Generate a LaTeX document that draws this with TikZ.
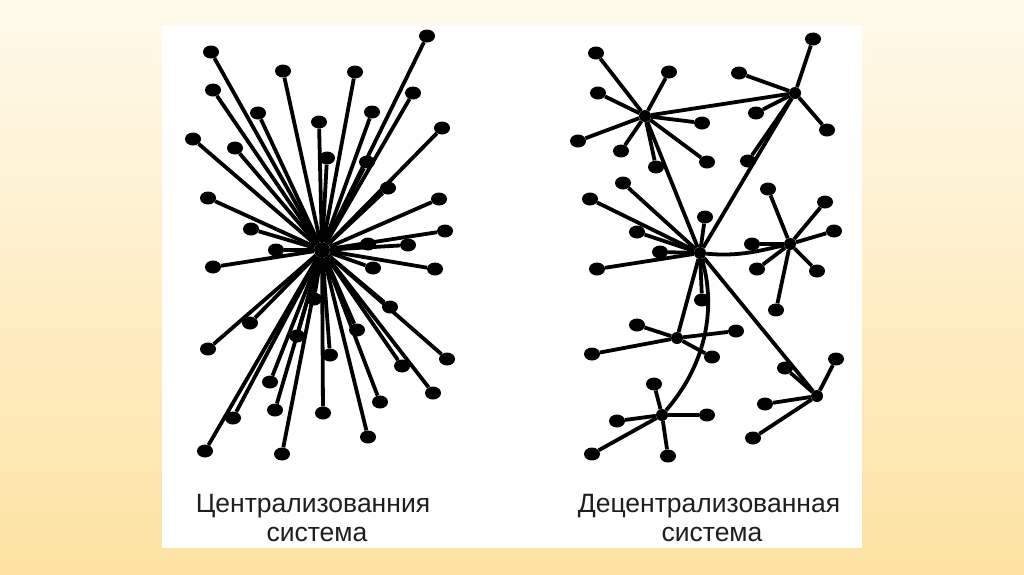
\documentclass[tikz,border=0pt]{standalone}
\usepackage{fontspec}
\setmainfont{Liberation Sans}
\usetikzlibrary{shapes.geometric}
\definecolor{bgtop}{HTML}{FFFAEC}
\definecolor{bgmid}{HTML}{FEEFC8}
\definecolor{bgbot}{HTML}{FDE2A2}
\definecolor{txt}{HTML}{1E1E1E}
\tikzset{
  leaf/.style={ellipse, fill=black, inner sep=0pt, minimum width=16, minimum height=13},
  hubl/.style={circle, fill=black, inner sep=0pt, minimum size=16},
  hubr/.style={circle, fill=black, inner sep=0pt, minimum size=12},
  edge/.style={line width=3.8pt, black},
  label/.style={text=txt, font=\fontsize{26.5}{32}\selectfont, anchor=base, inner sep=0pt}
}
\begin{document}
\begin{tikzpicture}[x=1pt,y=-1pt]
\useasboundingbox (0,0) rectangle (1024,574);
\shade[top color=bgtop, middle color=bgmid, bottom color=bgbot] (0,0) rectangle (1024,574);
\fill[white] (162,25) rectangle (862,548);

% ---------- centralized ----------
\node[hubl] (H) at (322,250) {};
\foreach \n/\x/\y in {1/211/52,2/427/36,3/283/71,4/355/72,5/213/90,6/413/93,7/258/113,8/372/112,9/319/122,10/193/139,11/235/148,12/442/128,13/327/158,14/367/162,15/388/188,16/208/198,17/439/199,18/251/229,19/445/231,20/276/250,21/408/245,22/368/244,23/213/267,24/373/268,25/435/269,26/390/307,27/250/323,28/357/330,29/297/336,30/208/349,31/330/355,32/447/359,33/402/366,34/270/382,35/433/393,36/380/402,37/275/410,38/323/413,39/233/418,40/368/437,41/205/451,42/282/454,43/314/299}{
  \node[leaf] (L\n) at (\x,\y) {};
  \draw[edge] (H) -- (L\n);
}

% ---------- decentralized ----------
\node[hubr] (A) at (645,116) {};
\node[hubr] (B) at (795,93) {};
\node[hubr] (C) at (700,253) {};
\node[hubr] (D) at (790,244) {};
\node[hubr] (E) at (677,338) {};
\node[hubr] (F) at (817,396) {};
\node[hubr] (G) at (662,415) {};

\foreach \h/\lst in {A/{1/596/53,2/669/72,3/598/93,4/702/123,5/578/141,6/621/151,7/656/167,8/707/162},
                     B/{1/813/39,2/739/73,3/756/113,4/827/130,5/748/161},
                     C/{1/623/183,2/590/199,3/705/217,4/637/232,5/660/252,6/597/269,7/702/300},
                     D/{1/768/189,2/825/202,3/834/231,4/752/244,5/757/269,6/817/271,7/776/310},
                     E/{1/637/325,2/736/331,3/592/354,4/712/357},
                     F/{1/836/359,2/785/368,3/765/404,4/753/438},
                     G/{1/654/384,2/617/421,3/707/415,4/592/454,5/668/456}}{
  \foreach \n/\x/\y in \lst {
    \node[leaf] (\h\n) at (\x,\y) {};
    \draw[edge] (\h) -- (\h\n);
  }
}

\draw[edge] (A) -- (B);
\draw[edge] (A) -- (C);
\draw[edge] (B) -- (C);
\draw[edge] (C) .. controls (740,257) and (762,250) .. (D);
\draw[edge] (C) -- (E);
\draw[edge] (C) -- (F);
\draw[edge] (C) .. controls (713,295) and (714,355) .. (G);

% ---------- labels ----------
\node[label] (t1) at (313,512) {Централизованния};
\node[label] (t2) at (317,541) {система};
\node[label] (t3) at (709,512) {Децентрализованная};
\node[label] (t4) at (712,541) {система};
\end{tikzpicture}
\end{document}
